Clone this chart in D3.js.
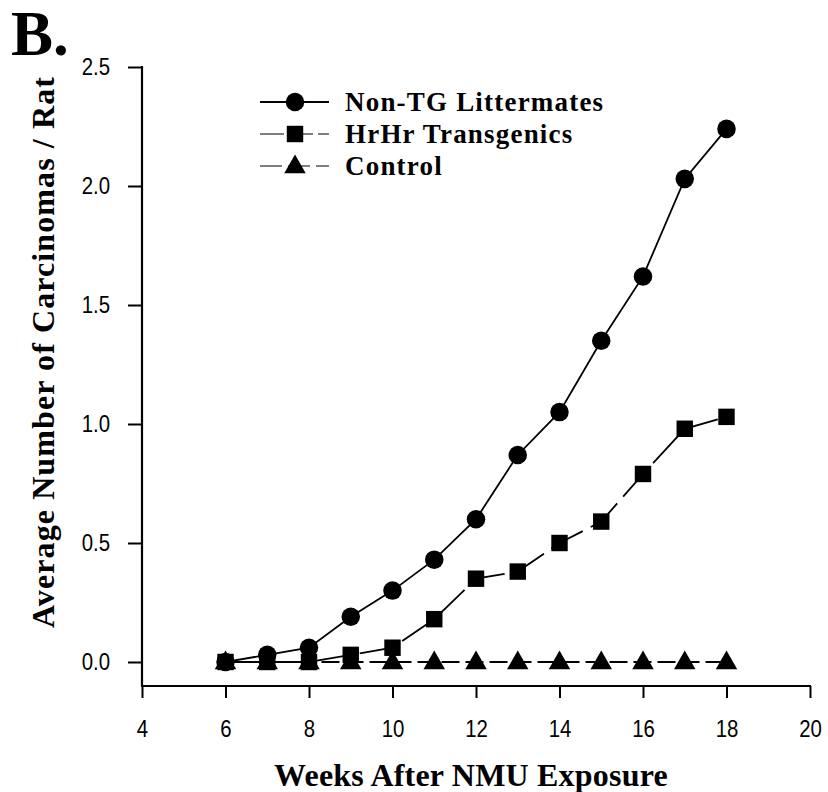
<!DOCTYPE html>
<html>
<head>
<meta charset="utf-8">
<script src="https://cdn.jsdelivr.net/npm/d3@7"></script>
<style>
  html, body { margin: 0; padding: 0; background: #fff; }
  svg { display: block; }
</style>
</head>
<body>
<svg id="chart" width="828" height="792"></svg>
<script>
// Weeks after NMU exposure and mean carcinoma counts per rat
const weeks = [6, 7, 8, 9, 10, 11, 12, 13, 14, 15, 16, 17, 18];
const nonTG = [0, 0.03, 0.06, 0.19, 0.30, 0.43, 0.60, 0.87, 1.05, 1.35, 1.62, 2.03, 2.24];
const hrhr = [0, 0, 0, 0.03, 0.06, 0.18, 0.35, 0.38, 0.50, 0.59, 0.79, 0.98, 1.03];
const control = [0, 0, 0, 0, 0, 0, 0, 0, 0, 0, 0, 0, 0];

const seriesNames = ["Non-TG Littermates", "HrHr Transgenics", "Control"];
const xTicks = [4, 6, 8, 10, 12, 14, 16, 18, 20];
const yTicks = [0, 0.5, 1.0, 1.5, 2.0, 2.5];

const svg = d3.select("#chart");

const x = d3.scaleLinear().domain([4, 20]).range([142, 810]);
const y = d3.scaleLinear().domain([0, 2.5]).range([662, 67]);
const xAxisY = 686;

const serif = "'Liberation Serif', 'Times New Roman', serif";
const sans = "'Liberation Sans', Arial, sans-serif";
const narrow = 0.85; // horizontal squeeze for the tick numerals

// Panel letter
svg.append("text")
  .attr("x", 11).attr("y", 55)
  .attr("font-family", serif).attr("font-weight", "bold")
  .attr("font-size", 63)
  .text("B.");

// Y axis
const yAxis = d3.axisLeft(y).tickValues(yTicks).tickSize(14).tickPadding(18)
  .tickFormat(d3.format(".1f"));
const gy = svg.append("g").attr("transform", "translate(142,0)").call(yAxis);
gy.select(".domain").remove();
gy.selectAll(".tick line").attr("stroke", "#000").attr("stroke-width", 2);
gy.selectAll(".tick text")
  .attr("font-family", sans).attr("font-size", 24).attr("fill", "#000")
  .attr("x", -32 / narrow)
  .attr("transform", `scale(${narrow},1)`);
svg.append("line")
  .attr("x1", 142).attr("x2", 142)
  .attr("y1", y(2.5) - 1).attr("y2", xAxisY + 1)
  .attr("stroke", "#000").attr("stroke-width", 2.2);

// X axis
const xAxis = d3.axisBottom(x).tickValues(xTicks).tickSize(12).tickPadding(22);
const gx = svg.append("g").attr("transform", `translate(0,${xAxisY})`).call(xAxis);
gx.select(".domain").remove();
gx.selectAll(".tick line").attr("stroke", "#000").attr("stroke-width", 2);
gx.selectAll(".tick text")
  .attr("font-family", sans).attr("font-size", 24).attr("fill", "#000")
  .attr("transform", `scale(${narrow},1)`);
svg.append("line")
  .attr("x1", 141).attr("x2", x(20) + 1)
  .attr("y1", xAxisY).attr("y2", xAxisY)
  .attr("stroke", "#000").attr("stroke-width", 2.2);

// Axis titles
svg.append("text")
  .attr("x", 471).attr("y", 786)
  .attr("text-anchor", "middle")
  .attr("font-family", serif).attr("font-weight", "bold").attr("font-size", 32)
  .attr("letter-spacing", 0.2)
  .text("Weeks After NMU Exposure");

svg.append("text")
  .attr("transform", "translate(54,352) rotate(-90)")
  .attr("text-anchor", "middle")
  .attr("font-family", serif).attr("font-weight", "bold").attr("font-size", 32)
  .attr("letter-spacing", 1.1)
  .text("Average Number of Carcinomas / Rat");

// Series definitions
const series = [
  { name: seriesNames[0], values: nonTG, dash: null, shape: d3.symbolCircle, size: 270 },
  { name: seriesNames[1], values: hrhr, dash: "36,9", shape: d3.symbolSquare, size: 270 },
  { name: seriesNames[2], values: control, dash: "18,6", shape: d3.symbolTriangle, size: 200 }
];

const line = d3.line().x(d => x(d[0])).y(d => y(d[1]));

// Draw lines (back to front so the circles sit on top)
series.slice().reverse().forEach(s => {
  const pts = weeks.map((w, i) => [w, s.values[i]]);
  svg.append("path")
    .datum(pts)
    .attr("d", line)
    .attr("fill", "none")
    .attr("stroke", "#000")
    .attr("stroke-width", 1.8)
    .attr("stroke-dasharray", s.dash);
  svg.append("g").selectAll("path")
    .data(pts)
    .join("path")
    .attr("transform", d => `translate(${x(d[0])},${y(d[1]) + (s.shape === d3.symbolTriangle ? 1 : 0)})`)
    .attr("d", d3.symbol().type(s.shape).size(s.size))
    .attr("fill", "#000");
});

// Legend
const legendRows = [102, 134, 166];
series.forEach((s, i) => {
  const g = svg.append("g").attr("transform", `translate(0,${legendRows[i]})`);
  g.append("line")
    .attr("x1", 260).attr("x2", 329)
    .attr("stroke", "#000").attr("stroke-width", i === 0 ? 1.8 : 1.2)
    .attr("stroke-dasharray", i === 0 ? null : (i === 1 ? "24,5" : "22,6"));
  g.append("path")
    .attr("transform", `translate(295,${i === 2 ? 1 : 0})`)
    .attr("d", d3.symbol().type(s.shape).size(s.size))
    .attr("fill", "#000");
  g.append("text")
    .attr("x", 345).attr("y", 9)
    .attr("font-family", serif).attr("font-weight", "bold").attr("font-size", 27)
    .attr("letter-spacing", 1.2)
    .text(s.name);
});
</script>
</body>
</html>
